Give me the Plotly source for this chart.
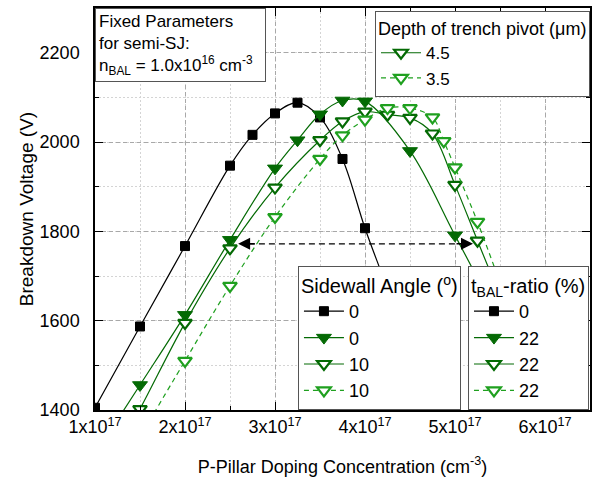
import plotly.graph_objects as go

# x values in units of 1e17 cm^-3, y in V
x_black = [1.0, 1.5, 2.0, 2.5, 2.75, 3.0, 3.25, 3.5, 3.75, 4.0, 4.25, 4.5]
y_black = [1405, 1587, 1767, 1947, 2016, 2064, 2088, 2055, 1962, 1807, 1670, 1520]

x_sw0 = [1.0, 1.5, 2.0, 2.5, 3.0, 3.25, 3.5, 3.75, 4.0, 4.5, 5.0, 5.5]
y_sw0 = [1300, 1456, 1613, 1781, 1941, 2004, 2062, 2093, 2091, 1980, 1791, 1600]

x_sw10 = [1.0, 1.5, 2.0, 2.5, 3.0, 3.5, 3.75, 4.0, 4.25, 4.5, 4.75, 5.0, 5.25, 5.5]
y_sw10 = [1215, 1402, 1595, 1762, 1898, 2004, 2046, 2068, 2061, 2054, 2019, 1904, 1779, 1655]

x_d35 = [1.5, 2.0, 2.5, 3.0, 3.5, 3.75, 4.0, 4.25, 4.5, 4.75, 4.875, 5.0, 5.25, 5.5]
y_d35 = [1340, 1510, 1678, 1832, 1962, 2015, 2050, 2076, 2076, 2055, 2002, 1943, 1821, 1685]

sidewall_labels = ["0", "0", "10", "10"]
tbal_labels = ["0", "22", "22", "22"]
depth_labels = ["4.5", "3.5"]

tick_vals = [1, 2, 3, 4, 5, 6]
tick_text = ["%dx10<sup>17</sup>" % v for v in tick_vals]
ytick_vals = [1400, 1600, 1800, 2000, 2200]

arrow_y = 1772
arrow_left = 2.59
arrow_right = 5.2

FONT = "Liberation Sans, Arial, sans-serif"
DG = "#046a04"
LG = "#1fa01f"

styles = [
    dict(line=dict(color="black", width=1.2, shape="spline"),
         marker=dict(symbol="square", size=9, color="black", line=dict(color="black", width=1))),
    dict(line=dict(color=DG, width=1.2, shape="spline"),
         marker=dict(symbol="triangle-down", size=13, color=DG, line=dict(color=DG, width=1))),
    dict(line=dict(color=DG, width=1.2, shape="spline"),
         marker=dict(symbol="triangle-down", size=12, color="white", line=dict(color=DG, width=2.2))),
    dict(line=dict(color=LG, width=1.2, shape="spline", dash="5px,4px"),
         marker=dict(symbol="triangle-down", size=12, color="white", line=dict(color=LG, width=2.2))),
]
series = [(x_black, y_black), (x_sw0, y_sw0), (x_sw10, y_sw10), (x_d35, y_d35)]

fig = go.Figure()
for (xs, ys), st, name in zip(series, styles, sidewall_labels):
    fig.add_trace(go.Scatter(x=xs, y=ys, mode="lines+markers", name=name,
                             legend="legend", **st))
for st, name in zip(styles, tbal_labels):
    fig.add_trace(go.Scatter(x=[None], y=[None], mode="lines+markers", name=name,
                             legend="legend2", **st))
for st, name in zip(styles[2:], depth_labels):
    fig.add_trace(go.Scatter(x=[None], y=[None], mode="lines+markers", name=name,
                             legend="legend3", **st))

# dashed double arrow
fig.add_shape(type="line", xref="x", yref="y", x0=arrow_left + 0.12, x1=arrow_right - 0.12,
              y0=arrow_y, y1=arrow_y, line=dict(color="black", width=1.3, dash="6px,4px"))
for tip, tail in [(arrow_left, arrow_left + 0.2), (arrow_right, arrow_right - 0.2)]:
    fig.add_annotation(x=tip, y=arrow_y, ax=tail, ay=arrow_y, xref="x", yref="y",
                       axref="x", ayref="y", text="", showarrow=True,
                       arrowhead=2, arrowsize=1.6, arrowwidth=1.5, arrowcolor="black")

fig.add_annotation(xref="paper", yref="paper", x=0.0, y=1.0, xanchor="left", yanchor="top",
                   text="Fixed Parameters<br>for semi-SJ:<br>n<sub>BAL</sub> = 1.0x10<sup>16</sup> cm<sup>-3</sup>\u00a0\u00a0",
                   showarrow=False, align="left", bordercolor="#555", borderwidth=1,
                   borderpad=3, bgcolor="white", font=dict(family=FONT, size=17, color="black"))

# y-axis title
fig.add_annotation(xref="paper", yref="paper", x=-0.139, y=0.50, xanchor="center", yanchor="middle",
                   text="Breakdown Voltage (V)", textangle=-90, showarrow=False,
                   font=dict(family=FONT, size=19, color="black"))

grid_major = dict(showgrid=True, gridcolor="#a8a8a8", griddash="4px,3px", gridwidth=1)
axis_common = dict(showline=True, linecolor="black", linewidth=1.5, mirror="allticks",
                   ticks="inside", ticklen=8, tickwidth=1.2, tickcolor="black",
                   tickfont=dict(family=FONT, size=18, color="black"), zeroline=False,
                   **grid_major)

fig.update_xaxes(range=[1, 6.5], tickvals=tick_vals, ticktext=tick_text,
                 title=dict(text="P-Pillar Doping Concentration (cm<sup>-3</sup>)",
                            font=dict(family=FONT, size=18, color="black"), standoff=24),
                 minor=dict(dtick=0.5, tick0=1, ticks="inside", ticklen=4, tickcolor="black",
                            showgrid=True, gridcolor="#d4d4d4", griddash="2px,2px"),
                 **axis_common)
fig.update_yaxes(range=[1400, 2300], tickvals=ytick_vals,
                 ticktext=["%d\u00a0\u00a0" % v for v in ytick_vals],
                 minor=dict(dtick=100, tick0=1400, ticks="inside", ticklen=4, tickcolor="black",
                            showgrid=True, gridcolor="#d4d4d4", griddash="2px,2px"),
                 **axis_common)

leg_common = dict(bgcolor="white", bordercolor="#555", borderwidth=1,
                  font=dict(family=FONT, size=18, color="black"), itemwidth=40,
                  tracegroupgap=0)
fig.update_layout(
    width=598, height=480,
    margin=dict(l=95, r=8, t=6, b=69),
    plot_bgcolor="white", paper_bgcolor="white",
    font=dict(family=FONT, color="black"),
    legend=dict(x=0.41, y=0.0, xanchor="left", yanchor="bottom",
                title=dict(text="Sidewall Angle (<sup>o</sup>)", font=dict(family=FONT, size=20)),
                **leg_common),
    legend2=dict(x=0.7535, y=0.0, xanchor="left", yanchor="bottom",
                 title=dict(text="t<sub>BAL</sub>-ratio (%)", font=dict(family=FONT, size=20)),
                 **leg_common),
    legend3=dict(x=1.0, y=0.993, xanchor="right", yanchor="top",
                 bgcolor="white", bordercolor="#555", borderwidth=1,
                 font=dict(family=FONT, size=17, color="black"), itemwidth=40,
                 title=dict(text="Depth of trench pivot (\u03bcm)", font=dict(family=FONT, size=18))),
)

fig.write_html("out.html")
